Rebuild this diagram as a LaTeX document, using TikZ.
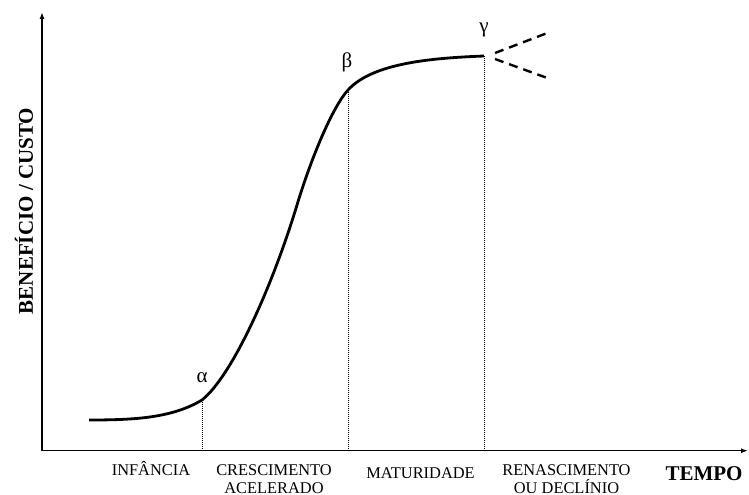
\documentclass[tikz,border=0pt]{standalone}
\usepackage{fontspec}
\setmainfont{Liberation Serif}
\usetikzlibrary{arrows.meta}
\tikzset{
  axis/.style={line width=1.4bp,-{Latex[length=7bp,width=5bp]}},
  curve/.style={line width=2.8bp},
  guide/.style={line width=0.8bp,dash pattern=on 1bp off 1bp},
  future/.style={line width=2.4bp,dash pattern=on 9bp off 6bp},
  phase/.style={font=\fontsize{16.4bp}{18bp}\selectfont,align=center,anchor=base,inner sep=0pt},
  greek/.style={font=\fontsize{21bp}{22bp}\selectfont,inner sep=0pt},
  axlabel/.style={font=\fontsize{21bp}{22bp}\selectfont\bfseries,inner sep=0pt}
}
\begin{document}
\begin{tikzpicture}[x=1bp,y=-1bp]
\useasboundingbox (0,0) rectangle (749,495);
\coordinate (O) at (42,450.7);
\coordinate (ytop) at (42,12);
\coordinate (xend) at (748,450.7);
\coordinate (s) at (89,420);
\coordinate (a) at (202,400);
\coordinate (i) at (297,205);
\coordinate (b) at (348,90);
\coordinate (g) at (484,56);
\coordinate (a0) at (202,450.7);
\coordinate (b0) at (348,450.7);
\coordinate (g0) at (484,450.7);
\coordinate (up1) at (495,53);
\coordinate (up2) at (550,32);
\coordinate (dn1) at (495,59);
\coordinate (dn2) at (550,79);
% axes
\draw[axis] (O) -- (ytop);
\draw[axis] (O) -- (xend);
% guides
\draw[guide] (a) -- (a0);
\draw[guide] (b) -- (b0);
\draw[guide] (g) -- (g0);
% curve
\draw[curve] (s) .. controls (135,420) and (172,418) .. (a)
  .. controls (232,376) and (272,287.5) .. (i)
  .. controls (312,155.5) and (333,106.5) .. (b)
  .. controls (373,62.5) and (434,58) .. (g);
% future branches
\draw[future] (up1) -- (up2);
\draw[future] (dn1) -- (dn2);
% greek labels
\node[greek] (la) at (202,378) {α};
\node[greek] (lb) at (347,62) {β};
\node[greek] (lg) at (484,30) {γ};
% phase labels
\node[phase] (inf) at (151,475.5) {INFÂNCIA};
\node[phase] (cre) at (274,493.5) {CRESCIMENTO\\ACELERADO};
\node[phase] (mat) at (420.5,478) {MATURIDADE};
\node[phase] (ren) at (566.5,493.5) {RENASCIMENTO\\OU DECLÍNIO};
\node[axlabel,anchor=base] (tempo) at (704,480) {TEMPO};
\node[axlabel,rotate=90] (bc) at (24,211) {BENEFÍCIO / CUSTO};
\end{tikzpicture}
\end{document}
